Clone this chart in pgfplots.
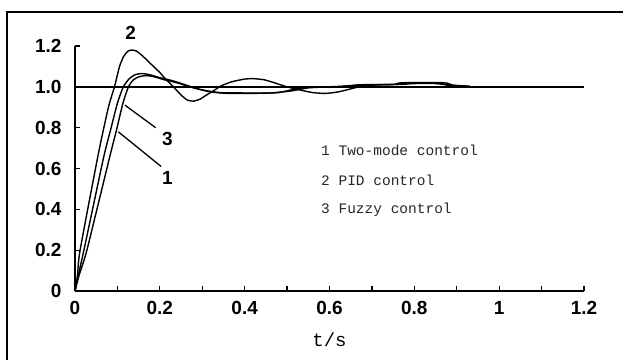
\documentclass[border=0pt]{standalone}
\usepackage{pgfplots}
\pgfplotsset{compat=1.18}
\usepackage{fontspec}
\setmainfont{Liberation Sans}
\newfontfamily\monofont{Liberation Mono}
\begin{document}
\begin{tikzpicture}
\useasboundingbox (-75pt,-69pt) rectangle (548pt,291pt);
\draw[line width=1.4pt] (-68pt,-69pt) -- (-68pt,279pt) -- (548pt,279pt);
\begin{axis}[
  anchor=origin, at={(0pt,0pt)},
  scale only axis, width=509pt, height=245pt,
  xmin=0, xmax=1.2, ymin=0, ymax=1.2,
  axis lines=left, axis line style={-, line width=1.6pt},
  clip=false,
  tick align=inside, major tick length=5pt, minor tick length=5pt,
  tick style={line width=1.3pt, black},
  xtick={0,0.2,0.4,0.6,0.8,1,1.2},
  xticklabels={0,0.2,0.4,0.6,0.8,1,1.2},
  minor xtick={0.1,0.3,0.5,0.7,0.9,1.1},
  ytick={0,0.2,0.4,0.6,0.8,1.0,1.2},
  yticklabels={0,0.2,0.4,0.6,0.8,1.0,1.2},
  /pgf/number format/assume math mode=true,
  ticklabel style={font=\bfseries\fontsize{19}{19}\selectfont},
  xticklabel style={yshift=-7pt},
  yticklabel style={xshift=-10pt},
  xlabel={t/s},
  xlabel style={at={(rel axis cs:0.5,-0.2)}, anchor=center, font=\monofont\fontsize{19}{19}\selectfont},
]
\addplot[black, line width=1.5pt] coordinates {(0,1) (1.2,1)};
% curve 2 PID
\addplot[black, line width=1.4pt, smooth, tension=0.4] coordinates {
(0,0) (0.006,0.08) (0.012,0.2) (0.053,0.65) (0.067,0.79) (0.08,0.91) (0.093,1.0) (0.105,1.1) (0.115,1.15) (0.125,1.175) (0.134,1.18) (0.145,1.175) (0.16,1.15) (0.18,1.11) (0.2,1.07) (0.215,1.035) (0.232,1.0) (0.25,0.96) (0.265,0.935) (0.28,0.93) (0.295,0.94) (0.31,0.96) (0.326,0.98) (0.345,1.005) (0.37,1.025) (0.4,1.038) (0.42,1.04) (0.445,1.035) (0.47,1.02) (0.5,1.0) (0.53,0.985) (0.56,0.972) (0.59,0.968) (0.62,0.975) (0.65,0.99) (0.68,1.005) (0.72,1.01) (0.77,1.012) (0.8,1.016) (0.85,1.016) (0.875,1.01) (0.93,1.003)};
% curve 3 Fuzzy
\addplot[black, line width=1.4pt, smooth, tension=0.4] coordinates {
(0,0) (0.008,0.08) (0.021,0.2) (0.067,0.65) (0.084,0.79) (0.1,0.92) (0.114,1.0) (0.128,1.04) (0.142,1.06) (0.158,1.065) (0.175,1.06) (0.2,1.045) (0.23,1.03) (0.26,1.01) (0.29,0.99) (0.32,0.975) (0.36,0.968) (0.42,0.968) (0.48,0.972) (0.52,0.99) (0.56,1.0) (0.62,1.0) (0.67,1.01) (0.75,1.012) (0.77,1.02) (0.87,1.02) (0.89,1.008) (0.93,1.002)};
% curve 1 Two-mode
\addplot[black, line width=1.4pt, smooth, tension=0.4] coordinates {
(0,0) (0.01,0.08) (0.028,0.2) (0.081,0.65) (0.098,0.79) (0.113,0.92) (0.126,1.0) (0.138,1.035) (0.152,1.05) (0.168,1.055) (0.185,1.05) (0.21,1.035) (0.24,1.02) (0.27,1.0) (0.3,0.985) (0.34,0.972) (0.4,0.97) (0.46,0.97) (0.51,0.98) (0.55,0.995) (0.6,1.0) (0.65,1.005) (0.7,1.01) (0.76,1.012) (0.78,1.018) (0.86,1.018) (0.88,1.006) (0.93,1.0)};
% leaders and labels
\draw[black, line width=1.3pt] (axis cs:0.118,0.91) -- (axis cs:0.19,0.80);
\draw[black, line width=1.3pt] (axis cs:0.102,0.78) -- (axis cs:0.203,0.61);
\node[font=\bfseries\fontsize{19}{19}\selectfont] at (axis cs:0.131,1.265) {2};
\node[font=\bfseries\fontsize{19}{19}\selectfont] at (axis cs:0.218,0.743) {3};
\node[font=\bfseries\fontsize{19}{19}\selectfont] at (axis cs:0.218,0.556) {1};
\node[anchor=west, font=\monofont\fontsize{14.5}{14.5}\selectfont, text=black!85] at (axis cs:0.572,0.688) {1 Two-mode control};
\node[anchor=west, font=\monofont\fontsize{14.5}{14.5}\selectfont, text=black!85] at (axis cs:0.572,0.543) {2 PID control};
\node[anchor=west, font=\monofont\fontsize{14.5}{14.5}\selectfont, text=black!85] at (axis cs:0.572,0.397) {3 Fuzzy control};
\end{axis}
\end{tikzpicture}
\end{document}
